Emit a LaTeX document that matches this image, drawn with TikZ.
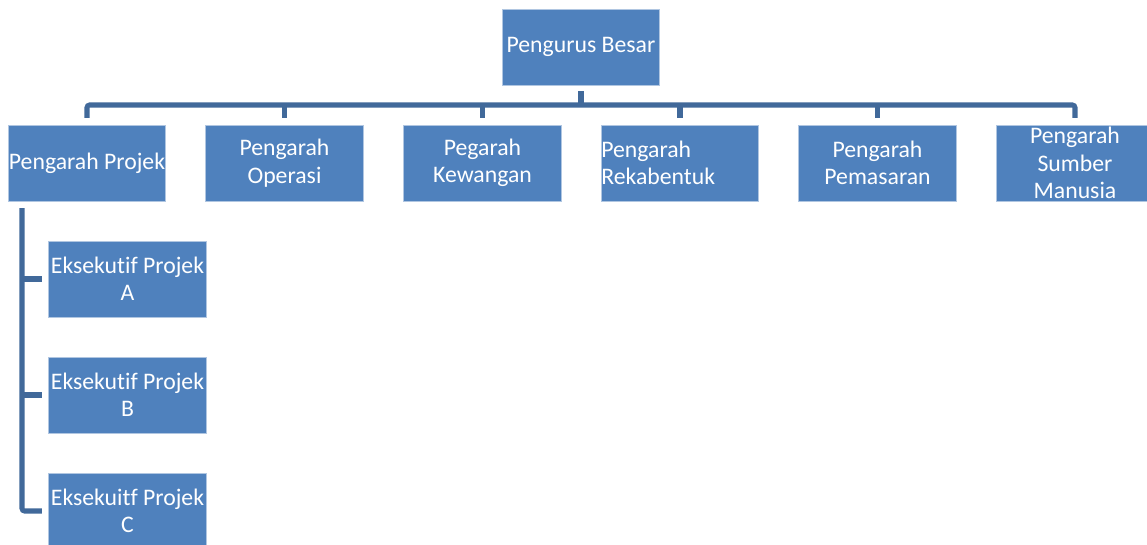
\documentclass[tikz,border=0pt]{standalone}
\usepackage{fontspec}
\setmainfont{Carlito}[Ligatures={NoCommon}]
\usetikzlibrary{calc}

\definecolor{boxblue}{HTML}{4F81BD}
\definecolor{linkblue}{HTML}{41699A}

\begin{document}
\begin{tikzpicture}[x=0.75pt, y=-0.75pt,
  box/.style={fill=boxblue, draw=white!55!boxblue, line width=0.6pt,
    minimum width=118pt, minimum height=57pt, inner sep=0pt,
    align=center, text=white,
    font=\fontsize{17.8}{20.5}\selectfont},
  leftbox/.style={box, text width=118pt, align=left},
  conn/.style={draw=linkblue, line width=3.8pt, rounded corners=2pt}]
\useasboundingbox (0, 0) rectangle (1147, 544);

%% kotak atas
\node[box] (pb) at (581, 47) {Pengurus Besar};

%% baris pengarah
\node[box] (pp) at (87, 163) {Pengarah Projek};
\node[box] (po) at (284.5, 163) {Pengarah\\Operasi};
\node[box] (pk) at (482.5, 163) {Pegarah\\Kewangan};
\node[leftbox] (pr) at (680, 163) {Pengarah\\Rekabentuk};
\node[box] (pm) at (877.5, 163) {Pengarah\\Pemasaran};
\node[box] (psm) at (1075, 163) {Pengarah\\Sumber\\Manusia};

%% eksekutif di bawah pengarah projek
\node[box] (epa) at (127.5, 279) {Eksekutif Projek\\A};
\node[box] (epb) at (127.5, 395) {Eksekutif Projek\\B};
\node[box] (epc) at (127.5, 511) {Eksekuitf Projek\\C};

%% garis penyambung
\coordinate (bar) at (581, 105);
\coordinate (spine) at (22, 0);
\draw[conn] ([yshift=-4.5pt]pb.south) -- (bar);
\draw[conn] ([yshift=5pt]pp.north) |- (bar) -| ([yshift=5pt]psm.north);
\foreach \n in {po, pk, pr, pm}
  \draw[conn] ([yshift=5pt]\n.north) -- (\n.north |- bar);

\draw[conn] ([yshift=-5pt]pp.south -| spine) |- ([xshift=-5pt]epc.west);
\foreach \n in {epa, epb}
  \draw[conn] (spine |- \n.west) -- ([xshift=-5pt]\n.west);
\end{tikzpicture}
\end{document}
